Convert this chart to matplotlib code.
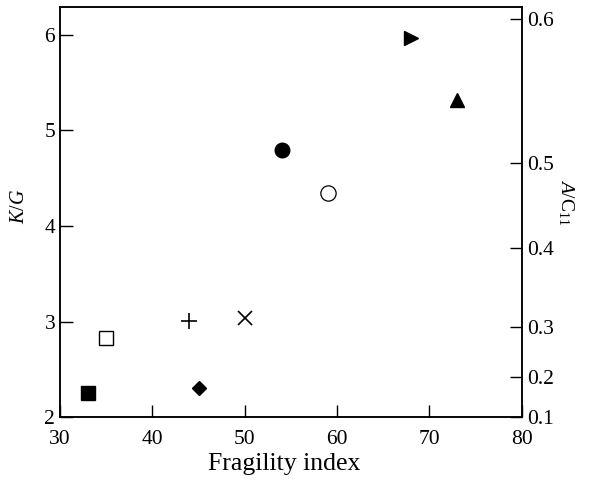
import matplotlib
matplotlib.use("Agg")
import matplotlib.pyplot as plt

plt.rcParams['font.family'] = ['Liberation Serif', 'DejaVu Serif']
plt.rcParams['mathtext.fontset'] = 'custom'
plt.rcParams['mathtext.rm'] = 'Liberation Serif'
plt.rcParams['mathtext.it'] = 'Liberation Serif:italic'

# fragility index and K/G for each material
frag_sq_f = [33]; kg_sq_f = [2.25]
frag_sq_o = [35]; kg_sq_o = [2.83]
frag_plus = [44]; kg_plus = [3.01]
frag_dia = [45]; kg_dia = [2.31]
frag_x = [50]; kg_x = [3.04]
frag_circ_f = [54]; kg_circ_f = [4.79]
frag_circ_o = [59]; kg_circ_o = [4.35]
frag_tri_r = [68]; kg_tri_r = [5.97]
frag_tri_u = [73]; kg_tri_u = [5.32]

# right axis A/C11 labels and where they sit on the K/G scale
ac_labels = ['0.1', '0.2', '0.3', '0.4', '0.5', '0.6']
ac_pos = [2.0, 2.42, 2.94, 3.77, 4.66, 6.16]

fig = plt.figure(figsize=(5.89, 4.84), dpi=100)
ax = fig.add_axes([0.102, 0.138, 0.784, 0.8475])

ax.plot(frag_sq_f, kg_sq_f, 's', color='black', ms=10)
ax.plot(frag_sq_o, kg_sq_o, 's', mfc='white', mec='black', mew=1.0, ms=10)
ax.plot(frag_plus, kg_plus, '+', color='black', ms=12, mew=1.2)
ax.plot(frag_dia, kg_dia, 'D', color='black', ms=7.5)
ax.plot(frag_x, kg_x, 'x', color='black', ms=10, mew=1.2)
ax.plot(frag_circ_f, kg_circ_f, 'o', color='black', ms=10.5)
ax.plot(frag_circ_o, kg_circ_o, 'o', mfc='white', mec='black', mew=0.9, ms=11)
ax.plot(frag_tri_r, kg_tri_r, '>', color='black', ms=10)
ax.plot(frag_tri_u, kg_tri_u, '^', color='black', ms=9.5)

ax.set_xlim(30, 80)
ax.set_ylim(2, 6.29)
ax.set_xticks([30, 40, 50, 60, 70, 80])
ax.set_yticks([2, 3, 4, 5, 6])
ax.tick_params(direction='in', length=9, width=1.0, labelsize=15.5, top=False, right=False)
ax.tick_params(axis='x', pad=9)
ax.set_xlabel('Fragility index', fontsize=18.5, labelpad=2)
ax.xaxis.set_label_coords(0.485, -0.088)
ax.set_ylabel(r'$K/G$', fontsize=14.5)
ax.yaxis.set_label_coords(-0.068, 0.515)

ax2 = ax.twinx()
ax2.set_ylim(ax.get_ylim())
ax2.set_yticks(ac_pos)
ax2.set_yticklabels(ac_labels)
ax2.tick_params(direction='in', length=9, width=1.0, labelsize=15.5)
ax2.set_ylabel(r'$A/\mathrm{C}_{11}$', fontsize=14, rotation=270)
ax2.yaxis.set_label_coords(1.117, 0.525)

for a in (ax, ax2):
    for s in a.spines.values():
        s.set_linewidth(1.1)

fig.savefig('out.png', dpi=100)
